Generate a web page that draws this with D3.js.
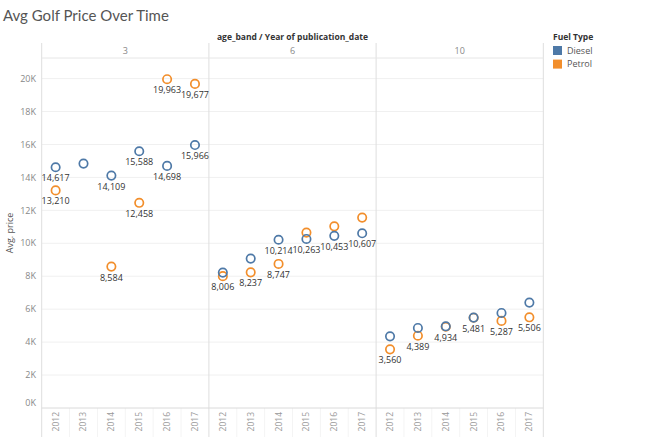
<!DOCTYPE html>
<html>
<head>
<meta charset="utf-8">
<script src="https://cdn.jsdelivr.net/npm/d3@7"></script>
<style>
  body { margin: 0; background: #fff; }
  svg { display: block; font-family: "Open Sans", sans-serif; }
</style>
</head>
<body>
<svg id="chart" width="650" height="437"></svg>
<script>
(function() {
  const ageBands = ["3", "6", "10"];
  const years = ["2012", "2013", "2014", "2015", "2016", "2017"];
  const fuelTypes = ["Diesel", "Petrol"];
  const fuelColors = ["#4e79a7", "#f28e2b"];
  const yTicks = [0, 2000, 4000, 6000, 8000, 10000, 12000, 14000, 16000, 18000, 20000];

  // avg price per year, one array per fuel type and age band
  const diesel3 = [14617, 14840, 14109, 15588, 14698, 15966];
  const petrol3 = [13210, null, 8584, 12458, 19963, 19677];
  const diesel6 = [8220, 9070, 10214, 10263, 10453, 10607];
  const petrol6 = [8006, 8237, 8747, 10650, 11030, 11560];
  const diesel10 = [4350, 4860, 4960, 5490, 5770, 6400];
  const petrol10 = [3560, 4389, 4934, 5481, 5287, 5506];

  // which marks carry a value label (tableau drops the overlapping ones)
  const dieselLabel3 = [1, 0, 1, 1, 1, 1];
  const petrolLabel3 = [1, 0, 1, 1, 1, 1];
  const dieselLabel6 = [0, 0, 1, 1, 1, 1];
  const petrolLabel6 = [1, 1, 1, 0, 0, 0];
  const dieselLabel10 = [0, 0, 0, 0, 0, 0];
  const petrolLabel10 = [1, 1, 1, 1, 1, 1];

  const seriesByBand = [
    [diesel3, petrol3, dieselLabel3, petrolLabel3],
    [diesel6, petrol6, dieselLabel6, petrolLabel6],
    [diesel10, petrol10, dieselLabel10, petrolLabel10]
  ];

  const points = [];
  ageBands.forEach((band, b) => {
    const [dv, pv, dl, pl] = seriesByBand[b];
    // petrol first so diesel sits on top where they overlap
    [[pv, pl, "Petrol"], [dv, dl, "Diesel"]].forEach(([vals, labs, fuel]) => {
      vals.forEach((v, i) => {
        if (v == null) return;
        points.push({ band: band, year: years[i], fuel: fuel, value: v, label: labs[i] === 1 });
      });
    });
  });

  const left = 41.7, right = 543.3, plotTop = 58, plotBottom = 408, headerTop = 43, bottom = 437;

  const svg = d3.select('#chart');
  const x0 = d3.scaleBand().domain(ageBands).range([left, right]);
  const x1 = d3.scaleBand().domain(years).range([0, x0.bandwidth()]);
  const y = d3.scaleLinear().domain([0, 21250]).range([plotBottom, plotTop]);
  const color = d3.scaleOrdinal().domain(fuelTypes).range(fuelColors);
  const fmt = d3.format(",");
  const xPos = d => x0(d.band) + x1(d.year) + x1.bandwidth() / 2;

  // title
  svg.append('text')
     .attr('x', 3).attr('y', 21)
     .attr('font-family', 'Lato, sans-serif')
     .attr('font-size', 15).attr('fill', '#555')
     .text('Avg Golf Price Over Time');

  // gridlines
  svg.append('g')
     .selectAll('line')
     .data(yTicks.slice(1))
     .enter()
     .append('line')
     .attr('x1', left).attr('x2', right)
     .attr('y1', d => y(d)).attr('y2', d => y(d))
     .attr('stroke', '#f0f0f0');

  // year separators in the axis area
  const sep = [];
  ageBands.forEach(band => years.slice(1).forEach(yr => sep.push(x0(band) + x1(yr))));
  svg.append('g')
     .selectAll('line')
     .data(sep)
     .enter()
     .append('line')
     .attr('x1', d => d).attr('x2', d => d)
     .attr('y1', plotBottom).attr('y2', bottom)
     .attr('stroke', '#f4f4f4');

  // panel frame lines
  const dividers = ageBands.map(b => x0(b)).concat([right]);
  svg.append('g')
     .selectAll('line')
     .data(dividers)
     .enter()
     .append('line')
     .attr('x1', d => d).attr('x2', d => d)
     .attr('y1', headerTop).attr('y2', bottom)
     .attr('stroke', '#dedede');
  svg.append('line')
     .attr('x1', left).attr('x2', right)
     .attr('y1', plotTop).attr('y2', plotTop)
     .attr('stroke', '#e6e6e6');
  svg.append('line')
     .attr('x1', left).attr('x2', right)
     .attr('y1', plotBottom).attr('y2', plotBottom)
     .attr('stroke', '#dadada');

  // header
  svg.append('text')
     .attr('x', (left + right) / 2).attr('y', 40)
     .attr('text-anchor', 'middle')
     .attr('font-size', 8.5).attr('font-weight', 'bold').attr('fill', '#333')
     .text('age_band / Year of publication_date');
  svg.append('g')
     .selectAll('text')
     .data(ageBands)
     .enter()
     .append('text')
     .attr('x', d => x0(d) + x0.bandwidth() / 2)
     .attr('y', 54)
     .attr('text-anchor', 'middle')
     .attr('font-size', 9).attr('fill', '#888')
     .text(d => d);

  // y axis
  svg.append('g')
     .selectAll('text')
     .data(yTicks)
     .enter()
     .append('text')
     .attr('x', 36)
     .attr('y', d => y(d) - (d === 0 ? 5 : 0))
     .attr('dy', '0.35em')
     .attr('text-anchor', 'end')
     .attr('font-size', 9).attr('fill', '#888')
     .text(d => (d / 1000) + 'K');
  svg.append('text')
     .attr('transform', 'translate(13,' + ((plotTop + plotBottom) / 2) + ') rotate(-90)')
     .attr('text-anchor', 'middle')
     .attr('font-size', 9).attr('fill', '#555')
     .text('Avg. price');

  // x axis year labels
  ageBands.forEach(band => {
    svg.append('g')
       .selectAll('text')
       .data(years)
       .enter()
       .append('text')
       .attr('transform', d => 'translate(' + (x0(band) + x1(d) + x1.bandwidth() / 2) + ',' + (plotBottom + 4) + ') rotate(-90)')
       .attr('dy', '0.35em')
       .attr('text-anchor', 'end')
       .attr('font-size', 8.5).attr('fill', '#999')
       .text(d => d);
  });

  // marks
  svg.append('g')
     .selectAll('circle')
     .data(points)
     .enter()
     .append('circle')
     .attr('cx', xPos)
     .attr('cy', d => y(d.value))
     .attr('r', 4.2)
     .attr('fill', 'none')
     .attr('stroke', d => color(d.fuel))
     .attr('stroke-width', 1.7);

  svg.append('g')
     .selectAll('text')
     .data(points.filter(d => d.label))
     .enter()
     .append('text')
     .attr('x', xPos)
     .attr('y', d => y(d.value) + 14)
     .attr('text-anchor', 'middle')
     .attr('font-size', 9).attr('fill', '#333')
     .text(d => fmt(d.value));

  // legend
  const legend = svg.append('g').attr('transform', 'translate(553,0)');
  legend.append('text')
        .attr('x', 0).attr('y', 40)
        .attr('font-size', 8.5).attr('font-weight', 'bold').attr('fill', '#333')
        .text('Fuel Type');
  const item = legend.selectAll('g')
                     .data(fuelTypes)
                     .enter()
                     .append('g')
                     .attr('transform', (d, i) => 'translate(0,' + (46 + i * 13.6) + ')');
  item.append('rect')
      .attr('width', 9).attr('height', 9)
      .attr('fill', d => color(d));
  item.append('text')
      .attr('x', 14).attr('y', 4.5).attr('dy', '0.35em')
      .attr('font-size', 9).attr('fill', '#555')
      .text(d => d);
})();
</script>
</body>
</html>
